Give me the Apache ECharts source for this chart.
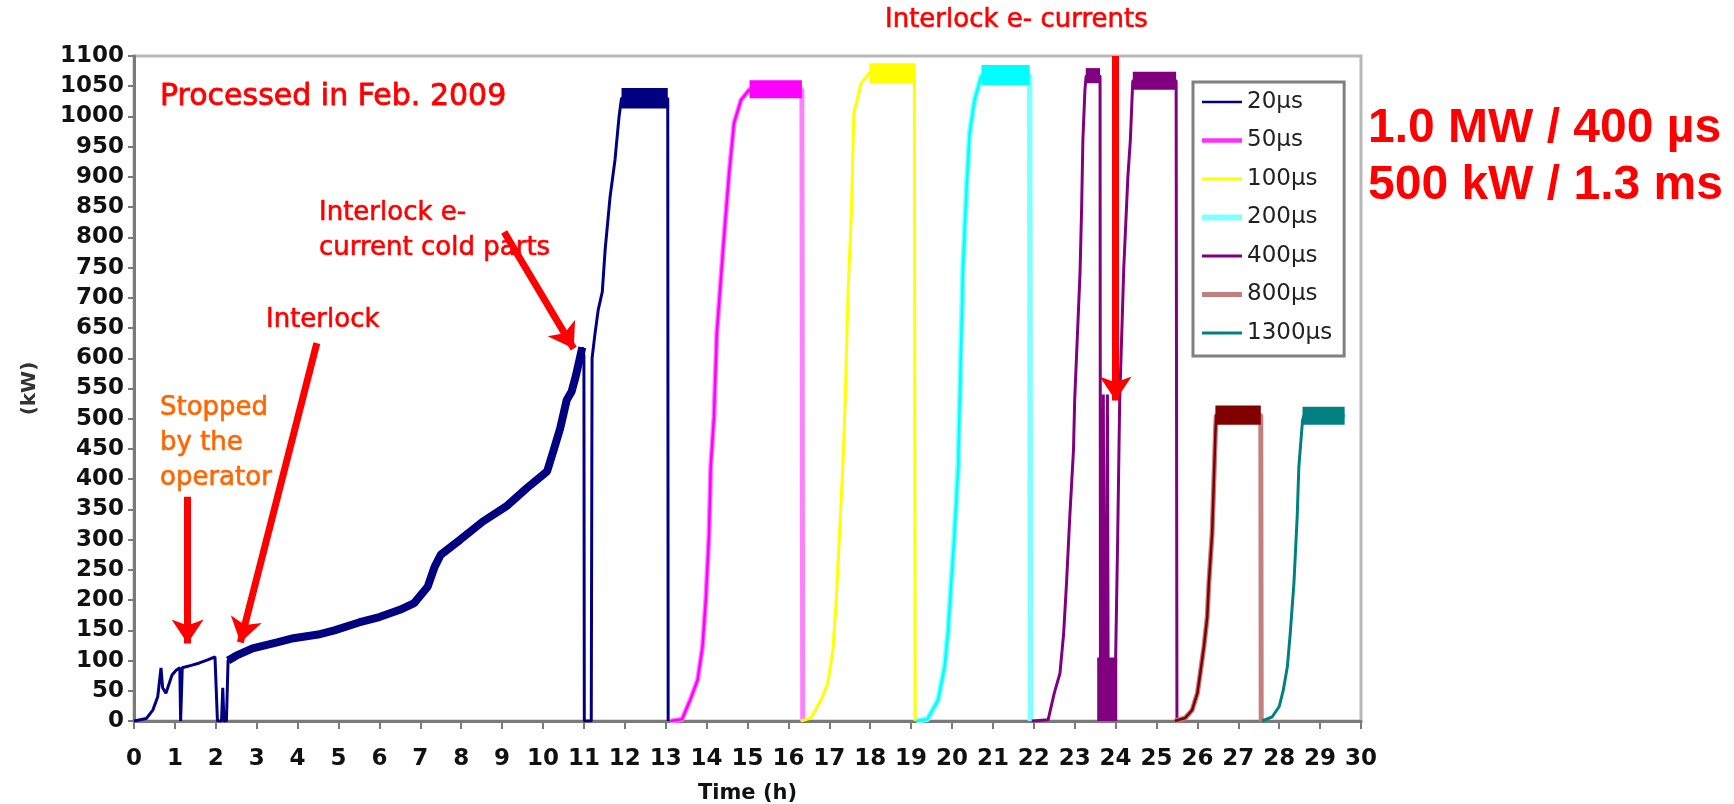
<!DOCTYPE html>
<html><head><meta charset="utf-8">
<script src="https://cdn.jsdelivr.net/npm/echarts@6/dist/echarts.min.js"></script>
<style>html,body{margin:0;padding:0;background:#fff}#c{width:1734px;height:804px}</style>
</head><body><div id="c"></div>
<script>
// ---- data (time in h, power in kW) ----
const seriesNames = ['20µs','50µs','100µs','200µs','400µs','800µs','1300µs'];
const xRange = [0, 30], xStep = 1;
const yRange = [0, 1100], yStep = 50;

const p20 = [[0,0],[0.3,4],[0.46,18],[0.58,40],[0.66,88],[0.7,55],[0.78,46],[0.86,62],[0.93,76],[1.03,84],[1.12,88],[1.14,0],[1.16,0],[1.18,88],[1.4,92],[1.6,96],[1.8,101],[1.98,106],[2.02,106],[2.04,0],[2.14,0],[2.17,55],[2.2,0],[2.26,0],[2.3,100],[2.5,108],[2.9,120],[3.5,130],[3.9,137],[4.5,143],[4.9,150],[5.5,163],[6.0,172],[6.5,184],[6.85,195],[7.18,222],[7.35,255],[7.5,275],[7.96,299],[8.53,330],[9.1,355],[9.6,385],[10.1,413],[10.26,448],[10.42,484],[10.58,531],[10.7,545],[10.8,570],[10.9,600],[10.96,618],[11.0,605],[11.01,0],[11.18,0],[11.2,600],[11.27,640],[11.35,680],[11.45,710],[11.52,780],[11.64,867],[11.76,928],[11.86,1000],[11.92,1030],[13.05,1030],[13.06,0]];
const p50 = [[13.12,0],[13.4,3],[13.6,35],[13.78,68],[13.9,123],[13.98,200],[14.06,310],[14.1,420],[14.18,503],[14.25,642],[14.42,796],[14.55,906],[14.67,989],[14.84,1027],[15.05,1045],[16.33,1045],[16.35,0]];
const p100 = [[16.3,0],[16.55,5],[16.8,35],[16.96,62],[17.09,118],[17.17,200],[17.25,310],[17.33,420],[17.39,531],[17.46,713],[17.54,840],[17.6,1005],[17.78,1055],[17.98,1072],[19.08,1072],[19.1,0]];
const p200 = [[19.13,0],[19.4,3],[19.66,35],[19.82,90],[19.9,145],[19.98,228],[20.06,310],[20.15,420],[20.19,531],[20.27,752],[20.35,873],[20.43,972],[20.55,1027],[20.72,1068],[21.9,1068],[21.92,0]];
const p400 = [[21.95,0],[22.35,2],[22.5,46],[22.64,79],[22.73,145],[22.8,228],[22.88,338],[22.97,448],[23.0,531],[23.13,741],[23.17,850],[23.2,961],[23.25,1044],[23.28,1067],[23.62,1067],[23.63,0],[23.66,100],[23.68,0],[23.7,540],[23.72,20],[23.76,100],[23.8,540],[23.82,10],[23.88,90],[23.93,0],[23.98,20],[24.05,300],[24.1,530],[24.2,750],[24.3,900],[24.36,960],[24.42,1059],[25.48,1059],[25.5,0]];
const p800 = [[25.45,0],[25.7,5],[25.87,18],[26.0,46],[26.07,79],[26.16,123],[26.24,172],[26.28,228],[26.36,310],[26.4,393],[26.44,476],[26.46,506],[27.55,506],[27.56,0]];
const p1300 = [[27.58,0],[27.83,7],[28.0,24],[28.1,51],[28.2,90],[28.27,145],[28.36,228],[28.44,338],[28.48,420],[28.57,497],[28.6,505],[29.6,505]];

// noisy plateau bands: [tStart, tEnd, kWlow, kWhigh]
const band20 = [[11.92,13.05,1013,1047]];
const band50 = [[15.05,16.33,1030,1060]];
const band100 = [[17.98,19.1,1055,1088]];
const band200 = [[20.72,21.9,1052,1085]];
const band400 = [[23.27,23.62,1055,1080],[24.42,25.48,1044,1074],[23.55,24.04,0,105]];
const band800 = [[26.44,27.55,490,522]];
const band1300 = [[28.57,29.6,490,520]];
const noisyRamp20 = [2.3, 10.96];

// annotation arrows [[t,kW] from, [t,kW] to]
const arrows = [[[1.31,371],[1.31,128]],[[4.47,625],[2.6,130]],[[9.05,809],[10.75,616]],[[24.0,1100],[24.0,530]]];

// ---- chart ----
function line(name, data, color, width) {
  return {name, type:'line', data, symbol:'none', showSymbol:false, smooth:false, z:2,
    lineStyle:{color, width}, itemStyle:{color}, silent:true, animation:false};
}
function bands(name, data, color) {
  return {name, type:'custom', data, silent:true, animation:false, z:4,
    encode:{x:[0,1], y:[2,3]},
    renderItem:(params, api) => {
      const a = api.coord([api.value(0), api.value(3)]);
      const b = api.coord([api.value(1), api.value(2)]);
      return {type:'rect', shape:{x:a[0], y:a[1], width:b[0]-a[0], height:b[1]-a[1]}, style:{fill:color}};
    }};
}
const inRange = (arr, lo, hi) => arr.filter(p => p[0] >= lo && p[0] <= hi);

const series = [
  line('20µs', p20, '#000080', 3),
  line('50µs', p50, '#ff80ff', 5),
  line('100µs', p100, '#ffff00', 3),
  line('200µs', p200, '#80ffff', 5.5),
  line('400µs', p400, '#800080', 3),
  line('800µs', p800, '#c08080', 5),
  line('1300µs', p1300, '#008080', 3),
  Object.assign(line('20µs', inRange(p20, noisyRamp20[0], noisyRamp20[1]), '#000080', 8), {z:3}),
  Object.assign(line('50µs', inRange(p50, 13, 15.05), '#ff00ff', 2.5), {z:3}),
  Object.assign(line('200µs', inRange(p200, 19, 20.72), '#00ffff', 2.5), {z:3}),
  Object.assign(line('800µs', inRange(p800, 25, 26.46), '#800000', 2.5), {z:3}),
  bands('20µs', band20, '#000080'),
  bands('50µs', band50, '#ff00ff'),
  bands('100µs', band100, '#ffff00'),
  bands('200µs', band200, '#00ffff'),
  bands('400µs', band400, '#800080'),
  bands('800µs', band800, '#800000'),
  bands('1300µs', band1300, '#008080'),
  {name:'annotations', type:'line', data:[], clip:false, silent:true, animation:false, z:6,
    markLine:{silent:true, animation:false, symbol:['none','arrow'], symbolSize:24,
      label:{show:false}, lineStyle:{color:'#ff0000', width:7, type:'solid', opacity:1},
      emphasis:{disabled:true},
      data: arrows.map(a => [{coord:a[0]}, {coord:a[1]}])}}
];

const legendLook = {
  '20µs':{color:'#000080', width:2.5}, '50µs':{color:'#ff30ff', width:4.5},
  '100µs':{color:'#ffff00', width:3}, '200µs':{color:'#80ffff', width:6},
  '400µs':{color:'#800080', width:3}, '800µs':{color:'#c08080', width:5},
  '1300µs':{color:'#008080', width:3}
};

const axisGray = '#7a7a7a';
const labelFont = {fontFamily:'DejaVu Sans', fontWeight:'bold', fontSize:23, color:'#111'};
const txt = (text, x, y, fill, font, sw) => ({type:'text', x, y, silent:true, z:100,
  style:{text, fill, font, align:'left', verticalAlign:'middle', stroke: sw ? fill : null, lineWidth: sw || 0}});

const chart = echarts.init(document.getElementById('c'), null, {renderer:'canvas'});
chart.setOption({
  animation:false,
  backgroundColor:'#ffffff',
  grid:{left:134, top:56, width:1227, height:665, show:true, borderColor:'#b8b8b8', borderWidth:3, outerBoundsMode:'none'},
  xAxis:{type:'value', min:xRange[0], max:xRange[1], interval:xStep,
    name:'Time (h)', nameLocation:'middle', nameGap:62,
    nameTextStyle:{fontFamily:'DejaVu Sans', fontWeight:'bold', fontSize:21, color:'#111'},
    axisLine:{show:true, lineStyle:{color:axisGray, width:3}},
    axisTick:{show:true, inside:false, length:8, lineStyle:{color:axisGray, width:2}},
    axisLabel:{...labelFont, margin:27, formatter: v => String(v)},
    splitLine:{show:false}},
  yAxis:{type:'value', min:yRange[0], max:yRange[1], interval:yStep,
    name:'(kW)', nameLocation:'middle', nameGap:94,
    nameTextStyle:{fontFamily:'DejaVu Sans', fontWeight:'bold', fontSize:20, color:'#333'},
    axisLine:{show:true, lineStyle:{color:axisGray, width:3}},
    axisTick:{show:true, inside:false, length:6, lineStyle:{color:axisGray, width:2}},
    axisLabel:{...labelFont, margin:10, formatter: v => String(v)},
    splitLine:{show:false}},
  legend:{data: seriesNames.map(n => ({name:n, lineStyle:{color:legendLook[n].color, width:legendLook[n].width}})),
    orient:'vertical', left:1193, top:82,
    itemWidth:40, itemHeight:24, itemGap:14.5,
    itemStyle:{opacity:0},
    padding:[8,12,11,6], backgroundColor:'#ffffff', borderColor:'#808080', borderWidth:3,
    textStyle:{fontFamily:'DejaVu Sans', fontSize:23, color:'#222', lineHeight:24},
    selectedMode:false},
  graphic:[
    txt('Processed in Feb. 2009', 160, 97, '#ff0000', '30px "DejaVu Sans"', 0.8),
    txt('Interlock e-', 319, 213, '#ff0000', '26px "DejaVu Sans"', 0.6),
    txt('current cold parts', 319, 248, '#ff0000', '26px "DejaVu Sans"', 0.6),
    txt('Interlock', 266, 320, '#ff0000', '26px "DejaVu Sans"', 0.6),
    txt('Stopped', 160, 408, '#ff6600', '26px "DejaVu Sans"', 0.6),
    txt('by the', 160, 443, '#ff6600', '26px "DejaVu Sans"', 0.6),
    txt('operator', 160, 478, '#ff6600', '26px "DejaVu Sans"', 0.6),
    txt('Interlock e- currents', 885, 20, '#ff0000', '26px "DejaVu Sans"', 0.6),
    txt('1.0 MW / 400 µs', 1368, 129, '#ff0000', 'bold 48px "Liberation Sans"'),
    txt('500 kW / 1.3 ms', 1368, 186, '#ff0000', 'bold 48px "Liberation Sans"')
  ],
  series
});
</script></body></html>
